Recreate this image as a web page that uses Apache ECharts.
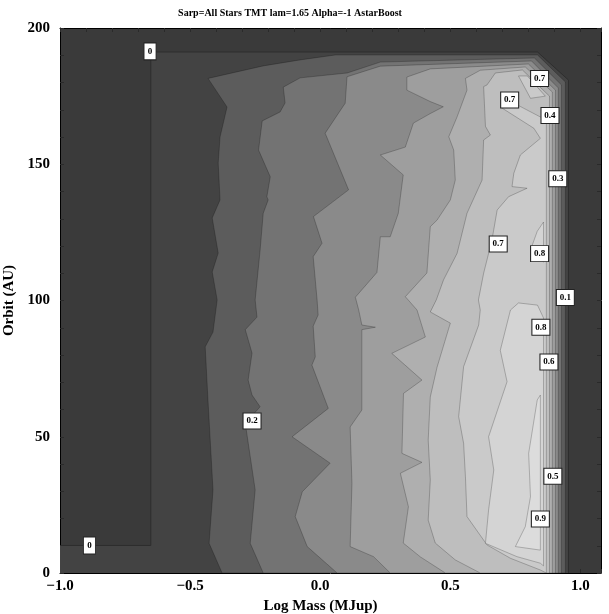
<!DOCTYPE html>
<html>
<head>
<meta charset="utf-8">
<script src="https://cdn.jsdelivr.net/npm/echarts@6/dist/echarts.min.js"></script>
<style>
  html, body { margin: 0; padding: 0; background: #fff; }
  #container { width: 609px; height: 614px; }
</style>
</head>
<body>
<div id="container"></div>
<script>
// filled contour regions, vertices are [log mass, orbit]
var zeroRegion = [[-1, 0], [-1, 10.1], [-0.651, 10.1], [-0.651, 191.2], [0.835, 191.2], [0.954, 180.9], [0.954, 0]];
var zeroLine = [[-1, 10.1], [-0.651, 10.1], [-0.651, 191.2], [0.835, 191.2], [0.954, 180.9], [0.954, 0]];

var level01 = [[-0.377, 0], [-0.427, 10.9], [-0.412, 30.5], [-0.431, 62.8], [-0.442, 83.0], [-0.412, 88.4],
  [-0.396, 100.2], [-0.415, 110.5], [-0.392, 117.4], [-0.415, 130.3], [-0.385, 136.9], [-0.392, 150.5],
  [-0.385, 160.0], [-0.358, 171.0], [-0.431, 181.5], [-0.219, 186.1], [-0.077, 188.3], [0.058, 190.1],
  [0.835, 190.1], [0.942, 180.2], [0.942, 0]];

var level02 = [[-0.219, 0], [-0.269, 10.9], [-0.250, 30.5], [-0.288, 55.0], [-0.231, 61.0], [-0.262, 65.3],
  [-0.277, 70.8], [-0.262, 80.7], [-0.288, 89.3], [-0.243, 93.9], [-0.250, 100.2], [-0.231, 118.5],
  [-0.219, 132.0], [-0.200, 136.9], [-0.205, 138.1], [-0.192, 145.4], [-0.237, 155.2], [-0.223, 165.9],
  [-0.154, 169.2], [-0.135, 172.5], [-0.142, 178.3], [-0.077, 181.7], [0.104, 183.5], [0.231, 187.5],
  [0.823, 189.0], [0.927, 179.1], [0.927, 0]];

var level03 = [[0.065, 0], [-0.050, 9.7], [-0.096, 20.7], [-0.069, 29.8], [0.038, 40.3], [-0.108, 50.0],
  [0.031, 60.4], [-0.032, 76.3], [-0.019, 79.3], [-0.027, 90.6], [-0.008, 94.7], [-0.012, 100.2],
  [-0.027, 116.1], [0.007, 121.0], [-0.026, 130.8], [0.109, 140.6], [0.019, 161.4], [0.096, 172.4],
  [0.103, 182.1], [0.231, 186.0], [0.812, 187.9], [0.915, 178.0], [0.915, 0]];

var level04 = [[0.269, 0], [0.205, 6.0], [0.115, 9.7], [0.122, 32.9], [0.115, 53.6], [0.160, 59.8],
  [0.160, 89.3], [0.212, 90.2], [0.160, 91.0], [0.148, 96.5], [0.135, 101.2], [0.218, 110.3],
  [0.231, 123.4], [0.269, 123.4], [0.300, 132.0], [0.319, 146.1], [0.231, 153.4], [0.327, 156.3],
  [0.358, 165.1], [0.423, 168.6], [0.473, 171.1], [0.423, 173.0], [0.333, 177.2], [0.333, 182.0],
  [0.423, 185.0], [0.800, 186.8], [0.904, 177.2], [0.904, 0]];

var level05 = [[0.481, 0], [0.385, 5.9], [0.319, 11.0], [0.339, 24.3], [0.308, 36.6], [0.391, 40.6],
  [0.314, 43.9], [0.320, 65.9], [0.391, 70.8], [0.275, 80.6], [0.404, 86.6], [0.372, 96.5],
  [0.327, 101.4], [0.410, 110.1], [0.423, 127.1], [0.449, 129.5], [0.500, 136.9], [0.519, 144.2],
  [0.513, 155.2], [0.494, 160.1], [0.526, 167.4], [0.564, 177.2], [0.558, 181.5], [0.615, 184.5],
  [0.788, 185.7], [0.892, 176.5], [0.892, 0]];

var level06 = [[0.615, 0], [0.519, 4.8], [0.442, 11.0], [0.415, 19.4], [0.423, 34.1], [0.415, 48.8],
  [0.423, 64.6], [0.449, 75.5], [0.500, 91.7], [0.423, 95.8], [0.446, 100.2], [0.474, 107.6],
  [0.526, 117.3], [0.564, 132.0], [0.622, 144.2], [0.628, 158.9], [0.654, 160.7], [0.635, 163.9],
  [0.628, 178.5], [0.641, 179.1], [0.673, 183.5], [0.777, 184.6], [0.881, 175.0], [0.881, 0]];

var level07 = [[0.869, 0], [0.846, 1.1], [0.731, 5.4], [0.641, 10.3], [0.564, 20.7], [0.558, 35.4],
  [0.551, 47.6], [0.532, 57.4], [0.551, 75.7], [0.609, 91.0], [0.615, 96.5], [0.608, 100.2],
  [0.628, 110.0], [0.660, 122.2], [0.680, 133.2], [0.724, 138.1], [0.795, 141.2], [0.737, 141.8],
  [0.744, 146.7], [0.769, 153.4], [0.846, 159.5], [0.821, 163.2], [0.699, 170.6], [0.715, 173.9],
  [0.869, 166.2]];
var level07b = [[0.762, 182.4], [0.808, 174.2], [0.865, 175.0], [0.796, 182.4]];

var level08 = [[0.858, 2.6], [0.846, 3.6], [0.756, 6.0], [0.635, 10.9], [0.647, 23.1], [0.667, 37.8],
  [0.647, 50.0], [0.718, 70.2], [0.692, 81.7], [0.731, 96.5], [0.762, 99.1], [0.835, 98.3], [0.858, 93.6]];
var level08b = [[0.858, 128.8], [0.834, 125.4], [0.808, 118.5], [0.858, 114.1]];

var level09 = [[0.846, 65.3], [0.834, 63.5], [0.801, 43.9], [0.808, 28.0], [0.788, 17.0], [0.750, 9.7], [0.846, 8.4]];

// contour labels
var labelText = ['0', '0', '0.2', '0.7', '0.7', '0.4', '0.3', '0.7', '0.8', '0.1', '0.8', '0.6', '0.5', '0.9'];
var labelMass = [-0.654, -0.887, -0.262, 0.843, 0.728, 0.883, 0.913, 0.684, 0.843, 0.942, 0.848, 0.879, 0.894, 0.846];
var labelOrbit = [191.4, 10.1, 55.8, 181.5, 173.6, 167.9, 144.7, 120.7, 117.2, 101.1, 90.2, 77.4, 35.5, 19.8];

var regions = [zeroRegion, level01, level02, level03, level04, level05, level06,
  level07, level07b, level08, level08b, level09];
var regionColors = ['#434343', '#5c5c5c', '#737373', '#8a8a8a', '#9e9e9e', '#afafaf', '#bebebe',
  '#cacaca', '#cacaca', '#d4d4d4', '#d4d4d4', '#dcdcdc'];

var serif = 'Liberation Serif';
var chartDom = document.getElementById('container');
var myChart = echarts.init(chartDom);

function massLabel(v) {
  var r = Math.round(v * 10);
  if (r % 5 !== 0 || Math.abs(v * 10 - r) > 1e-6) return '';
  return (r < 0 ? '\u2212' : '') + (Math.abs(r) / 10).toFixed(1);
}
function orbitLabel(v) {
  var r = Math.round(v);
  return r % 50 === 0 ? String(r) : '';
}

var tickStyle = { inside: true, length: 4, lineStyle: { color: '#2a2a2a', width: 1 } };
var frameLine = { show: true, onZero: false, lineStyle: { color: '#000' } };

var option = {
  animation: false,
  title: {
    text: 'Sarp=All Stars TMT lam=1.65 Alpha=-1 AstarBoost',
    left: 285,
    top: 3,
    textAlign: 'center',
    textStyle: { fontFamily: serif, fontWeight: 'bold', fontSize: 10, color: '#000' }
  },
  grid: {
    left: 60, right: 8, top: 28, bottom: 41,
    containLabel: false,
    outerBoundsMode: 'none',
    show: true, backgroundColor: '#3a3a3a', borderWidth: 0
  },
  xAxis: [
    {
      type: 'value', min: -1, max: 1.079, interval: 0.1, position: 'bottom',
      name: 'Log Mass (MJup)', nameLocation: 'middle', nameGap: 24,
      nameTextStyle: { fontFamily: serif, fontWeight: 'bold', fontSize: 15, color: '#000', padding: [0, 20, 0, 0] },
      axisLine: frameLine,
      axisTick: tickStyle,
      axisLabel: { formatter: massLabel, fontFamily: serif, fontWeight: 'bold', fontSize: 15, color: '#000', margin: 6 },
      splitLine: { show: false }
    },
    {
      type: 'value', min: -1, max: 1.079, interval: 0.1, position: 'top',
      axisLine: frameLine,
      axisTick: tickStyle,
      axisLabel: { show: false },
      splitLine: { show: false }
    }
  ],
  yAxis: [
    {
      type: 'value', min: 0, max: 200, interval: 10, position: 'left',
      name: 'Orbit (AU)', nameLocation: 'middle', nameGap: 38,
      nameTextStyle: { fontFamily: serif, fontWeight: 'bold', fontSize: 15, color: '#000' },
      axisLine: frameLine,
      axisTick: tickStyle,
      axisLabel: { formatter: orbitLabel, fontFamily: serif, fontWeight: 'bold', fontSize: 15, color: '#000', margin: 10 },
      splitLine: { show: false }
    },
    {
      type: 'value', min: 0, max: 200, interval: 10, position: 'right',
      axisLine: frameLine,
      axisTick: tickStyle,
      axisLabel: { show: false },
      splitLine: { show: false }
    }
  ],
  series: [
    {
      type: 'custom',
      coordinateSystem: 'cartesian2d',
      clip: true,
      silent: true,
      data: regions.map(function (r, i) { return [i]; }),
      renderItem: function (params, api) {
        var pts = regions[params.dataIndex].map(function (p) { return api.coord(p); });
        return {
          type: 'polygon',
          shape: { points: pts },
          style: {
            fill: regionColors[params.dataIndex],
            stroke: params.dataIndex === 0 ? 'none' : 'rgba(0,0,0,0.22)',
            lineWidth: 1
          }
        };
      }
    },
    {
      type: 'line',
      data: zeroLine,
      symbol: 'none',
      silent: true,
      lineStyle: { color: '#2e2e2e', width: 1 },
      z: 3
    },
    {
      type: 'scatter',
      data: labelText.map(function (t, i) { return [labelMass[i], labelOrbit[i], t]; }),
      symbol: 'rect',
      symbolSize: function (val) { return val[2] === '0' ? [12, 17] : [18, 16]; },
      itemStyle: { color: '#fff', borderColor: '#222', borderWidth: 1, opacity: 1 },
      label: {
        show: true, position: 'inside',
        formatter: function (p) { return p.value[2]; },
        fontFamily: serif, fontWeight: 'bold', fontSize: 9, color: '#000'
      },
      silent: true,
      z: 5
    }
  ]
};

option && myChart.setOption(option);
</script>
</body>
</html>
